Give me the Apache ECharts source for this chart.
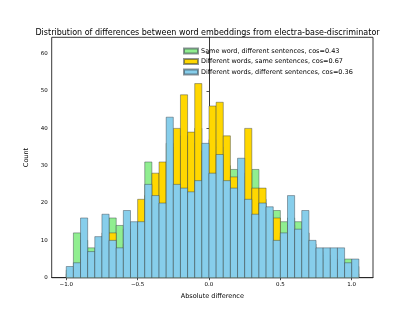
<!DOCTYPE html>
<html><head><meta charset="utf-8">
<script src="https://cdn.jsdelivr.net/npm/echarts@6/dist/echarts.min.js"></script>
<style>html,body{margin:0;padding:0;background:#fff}#c{width:415px;height:312px}</style>
</head><body><div id="c"></div>
<script>
// Bin layout (41 bins of width 0.05 starting at -1.0)
const binStart = -1.0;
const binWidth = 0.05;
const xTicks = [-1.0, -0.5, 0.0, 0.5, 1.0];
const yTicks = [0, 10, 20, 30, 40, 50, 60];
const seriesNames = [
  'Same word, different sentences, cos=0.43',
  'Different words, same sentences, cos=0.67',
  'Different words, different sentences, cos=0.36'
];
// counts per bin
const sameWordDiffSent = [2,12,10,8,7,12,16,14,13,11,14,31,20,24,30,35,38,36,40,33,37,35,30,29,26,28,29,21,17,18,15,16,15,12,9,7,6,5,4,5,3];
const diffWordSameSent = [1,2,5,4,6,8,12,6,9,12,21,22,28,31,36,40,49,39,52,34,46,47,38,27,27,40,24,24,15,16,11,14,10,12,7,5,4,3,2,2,1];
const diffWordDiffSent = [3,4,16,7,11,17,10,8,18,15,15,25,22,20,43,25,24,23,26,36,28,33,26,24,32,21,17,20,19,10,12,22,13,18,10,8,8,8,8,4,5];

const colors = ['#90EE90', '#FFD700', '#87CEEB'];
const edge = 'rgba(50,60,70,0.55)';
const font = 'DejaVu Sans';

function toData(vals){
  return vals.map((v,i)=>{
    const a = binStart + i*binWidth;
    return [a, a+binWidth, v];
  });
}
function render(color){
  return function(params, api){
    const p0 = api.coord([api.value(0), api.value(2)]);
    const p1 = api.coord([api.value(1), 0]);
    return {type:'rect', shape:{x:p0[0], y:p0[1], width:p1[0]-p0[0], height:p1[1]-p0[1]},
      style:{fill:color, stroke:edge, lineWidth:0.8}};
  };
}
const allVals = [sameWordDiffSent, diffWordSameSent, diffWordDiffSent];
const chart = echarts.init(document.getElementById('c'), null, {renderer:'canvas'});
const fmt = v => (v<0?'\u2212':'') + Math.abs(v).toFixed(1);
chart.setOption({
  animation:false,
  textStyle:{fontFamily:font},
  title:{text:'Distribution of differences between word embeddings from electra-base-discriminator',
    left:'center', top:24, textStyle:{fontFamily:font, fontSize:8, fontWeight:'normal', color:'#000'}},
  legend:{orient:'vertical', left:178, top:42, itemWidth:14, itemHeight:5, itemGap:2.5,
    icon:'rect', data:seriesNames,
    textStyle:{fontFamily:font, fontSize:6.5, color:'#000', lineHeight:8, padding:[0,0,0,-2]}},
  grid:{left:51.7, right:42, top:37.3, bottom:34.3, show:true, borderColor:'#222', borderWidth:0.9, backgroundColor:'#fff'},
  xAxis:{type:'value', min:-1.102, max:1.149, name:'Absolute difference', nameLocation:'middle', nameGap:14,
    nameTextStyle:{fontFamily:font, fontSize:6.5, color:'#000'},
    axisLine:{show:true, onZero:false, lineStyle:{color:'#222', width:0.9}},
    axisTick:{show:true, length:2.5, customValues:xTicks, lineStyle:{color:'#222', width:0.8}},
    axisLabel:{customValues:xTicks, formatter:fmt, fontFamily:font, fontSize:5.5, color:'#000', margin:4},
    splitLine:{show:false}},
  yAxis:{type:'value', min:0, max:64.4, name:'Count', nameLocation:'middle', nameGap:13,
    nameTextStyle:{fontFamily:font, fontSize:6.5, color:'#000'},
    axisLine:{show:true, lineStyle:{color:'#222', width:0.9}},
    axisTick:{show:true, length:2.5, customValues:yTicks, lineStyle:{color:'#222', width:0.8}},
    axisLabel:{customValues:yTicks, fontFamily:font, fontSize:5.5, color:'#000', margin:4},
    splitLine:{show:false}},
  series: seriesNames.map((n,k)=>({
    name:n, type:'custom', renderItem:render(colors[k]),
    itemStyle:{color:colors[k], borderColor:edge, borderWidth:0.8},
    encode:{x:[0,1], y:2}, data:toData(allVals[k]), z:2+k
  }))
});
</script></body></html>
